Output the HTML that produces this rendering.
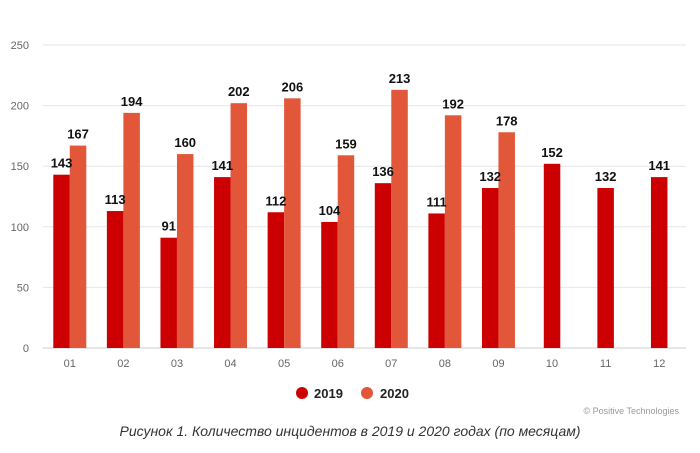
<!DOCTYPE html>
<html><head><meta charset="utf-8"><style>
body{margin:0;background:#fff;width:700px;height:448px;overflow:hidden;font-family:"Liberation Sans",sans-serif}
</style></head><body>
<svg id="chart" width="700" height="448" xmlns="http://www.w3.org/2000/svg" font-family="Liberation Sans, sans-serif">
<g id="grid"></g><g id="bars"></g><g id="labels"></g>
<g>
<circle cx="302" cy="393" r="6" fill="#cc0000"/>
<text x="314" y="398" font-size="13" font-weight="bold" fill="#222">2019</text>
<circle cx="367" cy="393" r="6" fill="#e2563a"/>
<text x="380" y="398" font-size="13" font-weight="bold" fill="#222">2020</text>
</g>
<text x="679" y="414" text-anchor="end" font-size="9" fill="#999">© Positive Technologies</text>
<text x="350" y="436" text-anchor="middle" font-size="14" font-style="italic" fill="#333">Рисунок 1. Количество инцидентов в 2019 и 2020 годах (по месяцам)</text>
</svg>
<script>
const categories=["01","02","03","04","05","06","07","08","09","10","11","12"];
const values2019=[143,113,91,141,112,104,136,111,132,152,132,141];
const values2020=[167,194,160,202,206,159,213,192,178,null,null,null];
const yTicks=[0,50,100,150,200,250];
const NS="http://www.w3.org/2000/svg";
const x0=43,x1=686,y0=348,yTop=45,yMax=250;
const band=(x1-x0)/categories.length;
const y=v=>y0-(v/yMax)*(y0-yTop);
const xc=i=>x0+band*(i+0.5);
function mk(t,a,p){const e=document.createElementNS(NS,t);for(const k in a)e.setAttribute(k,a[k]);p.appendChild(e);return e;}
const grid=document.getElementById('grid'),bars=document.getElementById('bars'),labels=document.getElementById('labels');
yTicks.forEach(t=>{
 const l=mk('line',{x1:x0,x2:x1,y1:y(t),y2:y(t),stroke:t===0?'#ccc':'#e6e6e6','stroke-width':1},grid);
 
 
 const tx=mk('text',{x:29,y:y(t)+4,'text-anchor':'end','font-size':11,fill:'#666'},grid);
 tx.textContent=t;
 
 
});
categories.forEach((c,i)=>{
 const tx=mk('text',{x:xc(i),y:367,'text-anchor':'middle','font-size':11,fill:'#666'},grid);
 tx.textContent=c;
 
 
 const w=16.5;
 [[values2019[i],'#cc0000',-w,'2019'],[values2020[i],'#e2563a',0,'2020']].forEach(([v,col,off,s])=>{
  if(v==null)return;
  const cx=values2020[i]==null?xc(i)-w/2:xc(i)+off;
  const r=mk('rect',{x:cx,y:y(v),width:w,height:y0-y(v),fill:col},bars);
  
  
  const lt=mk('text',{x:cx+w/2,y:y(v)-7,'text-anchor':'middle','font-size':13,'font-weight':'bold',fill:'#111'},labels);
  lt.textContent=v;
  
  
 });
});
</script>
</body></html>
